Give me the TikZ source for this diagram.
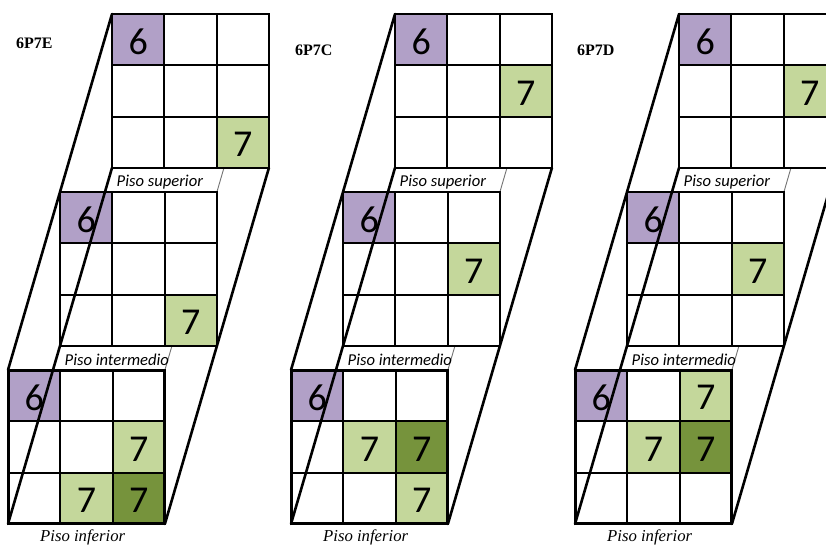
\documentclass[tikz,border=0pt]{standalone}
\usepackage{fontspec}
\setmainfont{Liberation Serif}
\newfontfamily\calibrifont{Carlito}
\definecolor{cpurple}{RGB}{177,160,199}
\definecolor{clight}{RGB}{196,215,155}
\definecolor{cdark}{RGB}{118,147,60}
\tikzset{
  gridline/.style={line width=1.9pt, black},
  slant/.style={line width=2.6pt, black, line cap=round},
  hiddenline/.style={line width=0.9pt, black!55},
  digitnode/.style={inner sep=0pt, font=\calibrifont\fontsize{38}{40}\selectfont},
  floorlabel/.style={inner sep=0pt, anchor=west, font=\calibrifont\itshape\fontsize{16.6}{18}\selectfont},
  inflabel/.style={inner sep=0pt, anchor=base west, font=\itshape\fontsize{16.7}{18}\selectfont},
  titlelabel/.style={inner sep=0pt, anchor=base west, font=\bfseries\fontsize{16}{18}\selectfont},
}
% #1 x0, #2 y0, #3 row, #4 col, #5 colour, #6 digit, #7 name
\newcommand\digitcell[7]{%
  \fill[#5] ({#1+#4*52.3},{#2+#3*51.3}) rectangle ++(52.3,51.3);
  \node[digitnode] (#7) at ({#1+(#4+0.5)*52.3},{#2+(#3+0.5)*51.3+2}) {#6};
}
% #1 x0, #2 y0, #3 outer width
\newcommand\gridlinesat[3]{%
  \foreach \i in {1,2}{
    \draw[gridline] ({#1+\i*52.3},#2) -- ++(0,153.9);
    \draw[gridline] (#1,{#2+\i*51.3}) -- ++(156.9,0);
  }
  \draw[line width=#3] (#1,#2) rectangle ++(156.9,153.9);
}
% #1 ox, #2 id
\newcommand\panelstart[2]{%
  \coordinate (T-TL-#2) at (112+#1,14);
  \coordinate (T-TR-#2) at (268.9+#1,14);
  \coordinate (T-BL-#2) at (112+#1,167.9);
  \coordinate (T-BR-#2) at (268.9+#1,167.9);
  \coordinate (M-TL-#2) at (60+#1,192);
  \coordinate (M-BR-#2) at (216.9+#1,345.9);
  \coordinate (B-TL-#2) at (8+#1,370);
  \coordinate (B-TR-#2) at (164.9+#1,370);
  \coordinate (B-BL-#2) at (8+#1,523.9);
  \coordinate (B-BR-#2) at (164.9+#1,523.9);
  \draw[hiddenline] (T-TR-#2) -- (B-TR-#2);
  \fill[white] (T-TL-#2) rectangle (T-BR-#2);
  \fill[white] (M-TL-#2) rectangle (M-BR-#2);
  \fill[white] (B-TL-#2) rectangle (B-BR-#2);
}
\newcommand\panelend[2]{%
  \gridlinesat{112+#1}{14}{1.9pt}
  \gridlinesat{60+#1}{192}{1.9pt}
  \gridlinesat{8+#1}{370}{3pt}
  \draw[slant] (T-TL-#2) -- (B-TL-#2);
  \draw[slant] (T-BL-#2) -- (B-BL-#2);
  \draw[slant] (T-BR-#2) -- (B-BR-#2);
  \node[floorlabel] (sup-#2) at (116.5+#1,182) {Piso superior};
  \node[floorlabel] (int-#2) at (64.5+#1,360) {Piso intermedio};
  \node[inflabel] (inf-#2) at (40+#1,541) {Piso inferior};
}
\begin{document}
\begin{tikzpicture}[x=1pt,y=-1pt]
\useasboundingbox (0,0) rectangle (826,544);
\clip (0,0) rectangle (826,544);
\fill[white] (0,0) rectangle (826,544);

% ---------- panel 1: 6P7E ----------
\panelstart{0}{a}
\digitcell{112}{14}{0}{0}{cpurple}{6}{a-t6}
\digitcell{112}{14}{2}{2}{clight}{7}{a-t7}
\digitcell{60}{192}{0}{0}{cpurple}{6}{a-m6}
\digitcell{60}{192}{2}{2}{clight}{7}{a-m7}
\digitcell{8}{370}{0}{0}{cpurple}{6}{a-b6}
\digitcell{8}{370}{1}{2}{clight}{7}{a-b7a}
\digitcell{8}{370}{2}{1}{clight}{7}{a-b7b}
\digitcell{8}{370}{2}{2}{cdark}{7}{a-b7c}
\panelend{0}{a}
\node[titlelabel] (title-a) at (16,48) {6P7E};

% ---------- panel 2: 6P7C ----------
\panelstart{283}{b}
\digitcell{395}{14}{0}{0}{cpurple}{6}{b-t6}
\digitcell{395}{14}{1}{2}{clight}{7}{b-t7}
\digitcell{343}{192}{0}{0}{cpurple}{6}{b-m6}
\digitcell{343}{192}{1}{2}{clight}{7}{b-m7}
\digitcell{291}{370}{0}{0}{cpurple}{6}{b-b6}
\digitcell{291}{370}{1}{1}{clight}{7}{b-b7a}
\digitcell{291}{370}{1}{2}{cdark}{7}{b-b7b}
\digitcell{291}{370}{2}{2}{clight}{7}{b-b7c}
\panelend{283}{b}
\node[titlelabel] (title-b) at (295,55) {6P7C};

% ---------- panel 3: 6P7D ----------
\panelstart{567}{c}
\digitcell{679}{14}{0}{0}{cpurple}{6}{c-t6}
\digitcell{679}{14}{1}{2}{clight}{7}{c-t7}
\digitcell{627}{192}{0}{0}{cpurple}{6}{c-m6}
\digitcell{627}{192}{1}{2}{clight}{7}{c-m7}
\digitcell{575}{370}{0}{0}{cpurple}{6}{c-b6}
\digitcell{575}{370}{0}{2}{clight}{7}{c-b7a}
\digitcell{575}{370}{1}{1}{clight}{7}{c-b7b}
\digitcell{575}{370}{1}{2}{cdark}{7}{c-b7c}
\panelend{567}{c}
\node[titlelabel] (title-c) at (577,55) {6P7D};
\end{tikzpicture}
\end{document}
